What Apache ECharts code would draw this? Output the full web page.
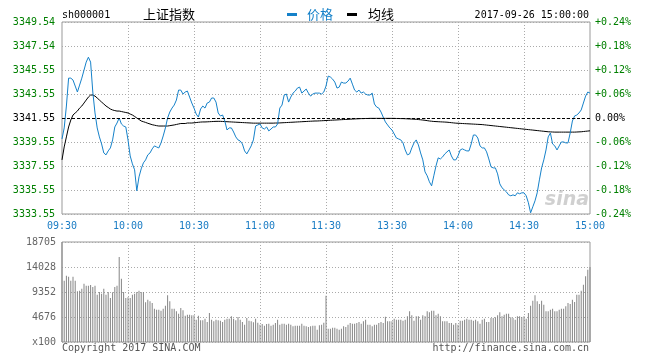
<!DOCTYPE html>
<html><head><meta charset="utf-8">
<script src="https://cdn.jsdelivr.net/npm/echarts@6/dist/echarts.min.js"></script>
<style>html,body{margin:0;padding:0;background:#fff}#c{width:649px;height:363px}</style>
</head><body><div id="c"></div>
<script>
const prevClose = 3341.55;
const priceTicks = ['3333.55','3335.55','3337.55','3339.55','3341.55','3343.55','3345.55','3347.54','3349.54'];
const pctTicks = ['-0.24%','-0.18%','-0.12%','-0.06%','0.00%','+0.06%','+0.12%','+0.18%','+0.24%'];
const volTicks = ['x100','4676','9352','14028','18705'];
const timeTicks = ['09:30','10:00','10:30','11:00','11:30','13:30','14:00','14:30','15:00'];

const price = [
3339.80,3340.72,3342.55,3344.88,3344.88,3344.72,3344.22,3343.72,3344.30,3344.88,
3345.55,3346.22,3346.63,3346.22,3343.72,3341.97,3340.72,3339.97,3339.38,3338.63,
3338.47,3338.80,3339.05,3339.72,3340.80,3341.13,3341.55,3341.05,3340.88,3340.80,
3339.72,3338.38,3337.72,3337.22,3335.47,3336.63,3337.30,3337.80,3338.05,3338.47,
3338.63,3338.97,3339.22,3339.13,3339.05,3339.47,3340.05,3340.72,3341.55,3342.05,
3342.38,3342.63,3343.05,3343.88,3343.88,3343.55,3343.72,3343.80,3343.30,3342.80,
3342.38,3341.88,3341.63,3342.30,3342.55,3342.38,3342.80,3342.88,3343.22,3343.22,
3342.88,3341.97,3341.72,3341.80,3341.30,3340.55,3340.72,3340.72,3340.38,3339.97,
3339.72,3339.63,3339.38,3338.80,3338.55,3338.88,3339.22,3339.72,3340.88,3340.97,
3341.05,3340.72,3340.63,3340.80,3340.47,3340.63,3340.80,3340.80,3341.05,3342.38,
3342.63,3343.47,3343.55,3342.88,3343.30,3343.63,3343.80,3344.05,3344.13,3343.63,
3343.80,3343.97,3343.63,3343.38,3343.55,3343.63,3343.63,3343.63,3343.55,3343.72,
3344.22,3345.05,3344.97,3344.80,3344.55,3344.05,3344.13,3344.55,3344.47,3344.47,
3344.63,3344.88,3344.38,3343.88,3343.72,3343.88,3343.63,3343.72,3343.55,3343.47,
3343.47,3343.63,3342.72,3342.47,3342.38,3342.05,3341.63,3341.22,3340.97,3340.72,
3340.55,3340.22,3339.88,3339.80,3339.72,3339.47,3338.88,3338.47,3338.55,3339.05,
3339.47,3339.72,3339.30,3338.63,3338.05,3337.05,3336.72,3336.22,3335.88,3336.72,
3337.55,3338.22,3338.13,3338.30,3338.55,3338.72,3338.88,3338.38,3338.05,3338.05,
3338.38,3338.88,3338.97,3338.88,3338.80,3338.80,3339.38,3340.13,3340.13,3339.88,
3339.22,3339.05,3339.05,3338.72,3338.13,3337.47,3337.38,3337.38,3336.88,3336.05,
3335.72,3335.55,3335.38,3335.13,3335.05,3335.13,3335.05,3335.30,3335.22,3335.30,
3335.30,3335.05,3334.47,3333.63,3334.13,3334.63,3335.30,3336.38,3337.38,3338.05,
3338.88,3339.97,3340.30,3339.38,3339.22,3338.88,3339.22,3339.55,3339.55,3339.47,
3339.47,3340.30,3341.30,3341.72,3341.80,3341.97,3342.22,3342.80,3343.38,3343.72,3343.63
];

const avgPrice = [
3338.05,3339.13,3339.97,3340.80,3341.38,3341.80,3341.97,3342.13,3342.38,3342.55,
3342.80,3343.05,3343.30,3343.47,3343.47,3343.38,3343.22,3343.05,3342.88,3342.72,
3342.55,3342.43,3342.30,3342.22,3342.17,3342.13,3342.13,3342.09,3342.05,3342.01,
3341.97,3341.88,3341.80,3341.68,3341.55,3341.43,3341.30,3341.24,3341.18,3341.11,
3341.05,3340.99,3340.95,3340.91,3340.88,3340.88,3340.88,3340.88,3340.88,3340.91,
3340.94,3340.97,3341.01,3341.05,3341.09,3341.09,3341.09,3341.13,3341.13,3341.13,
3341.15,3341.17,3341.19,3341.21,3341.22,3341.22,3341.23,3341.24,3341.25,3341.26,
3341.27,3341.27,3341.27,3341.26,3341.25,3341.24,3341.23,3341.22,3341.21,3341.20,
3341.19,3341.18,3341.17,3341.16,3341.15,3341.14,3341.13,3341.12,3341.12,3341.12,
3341.12,3341.12,3341.12,3341.12,3341.12,3341.12,3341.12,3341.13,3341.13,3341.14,
3341.15,3341.16,3341.17,3341.18,3341.19,3341.20,3341.21,3341.22,3341.23,3341.24,
3341.25,3341.26,3341.27,3341.28,3341.29,3341.30,3341.30,3341.31,3341.32,3341.33,
3341.34,3341.35,3341.36,3341.37,3341.38,3341.39,3341.40,3341.41,3341.42,3341.43,
3341.44,3341.45,3341.46,3341.47,3341.48,3341.49,3341.50,3341.50,3341.51,3341.51,
3341.52,3341.52,3341.52,3341.52,3341.52,3341.52,3341.52,3341.52,3341.52,3341.52,
3341.52,3341.52,3341.51,3341.51,3341.50,3341.50,3341.49,3341.48,3341.47,3341.46,
3341.45,3341.44,3341.42,3341.40,3341.38,3341.36,3341.33,3341.30,3341.28,3341.26,
3341.25,3341.24,3341.23,3341.22,3341.21,3341.20,3341.18,3341.16,3341.14,3341.12,
3341.11,3341.10,3341.09,3341.08,3341.07,3341.06,3341.05,3341.04,3341.03,3341.02,
3341.01,3341.00,3340.98,3340.96,3340.94,3340.92,3340.90,3340.88,3340.86,3340.84,
3340.82,3340.80,3340.78,3340.76,3340.74,3340.72,3340.70,3340.68,3340.66,3340.64,
3340.62,3340.60,3340.58,3340.56,3340.54,3340.52,3340.50,3340.48,3340.46,3340.44,
3340.42,3340.40,3340.39,3340.38,3340.37,3340.37,3340.37,3340.37,3340.37,3340.37,
3340.37,3340.37,3340.37,3340.37,3340.38,3340.39,3340.40,3340.42,3340.44,3340.46,3340.48
];

const volume = [
18705,11470,12400,12214,11466,12214,11466,9471,9596,9970,
10905,10531,10531,10656,10282,10531,8848,9347,9035,9970,
8848,9347,8224,9284,10282,10531,15894,11840,9347,8224,
8349,8224,8848,9035,9347,9596,9347,9347,7413,7912,
7600,7288,6229,6042,6042,5855,6229,6790,8723,7600,
6229,6229,5730,5294,6353,5917,4920,5107,5107,4982,
4982,4172,4920,4047,4047,4359,3735,5418,4172,3860,
4172,4047,3984,3735,4172,4359,4359,4795,4359,4047,
4670,4172,3735,3236,4483,3984,3860,3673,4359,3610,
3236,3361,3049,3361,3423,3049,3236,3548,4172,3236,
3423,3423,3236,3423,3236,2924,3049,3049,3049,3423,
3049,2924,2800,2924,3049,3049,2301,3112,3236,3610,
8661,2488,2488,2675,2675,2488,2301,2488,2924,2800,
3236,3548,3423,3423,3548,3735,3423,3860,4172,3236,
3236,2924,3236,3236,3548,3735,3548,4732,3860,3860,
3860,4359,4172,4172,4172,3984,4172,4795,5730,4982,
3984,4795,4795,4172,4982,4795,5730,5543,5855,5855,
4982,5294,4795,3860,3860,3860,3548,3548,3236,3548,
3236,3984,3984,4172,4359,4172,4172,3984,4172,3860,
3423,4172,4359,3735,3735,4483,4483,4608,4982,5543,
4795,5107,5294,5294,4608,4483,4172,4795,4795,4670,
4795,4359,5418,6790,7725,8723,7600,7101,7725,6977,
5730,5730,6042,6229,5730,5730,6042,6229,6229,6665,
7288,7101,7912,7476,8848,8848,9596,10718,12277,13524,14028
];

function pad(n){return (n<10?'0':'')+n;}
const times = [];
for (let i = 0; i <= 240; i++) {
  let m = i <= 120 ? 9*60+30+i : 13*60+(i-120);
  times.push(pad(Math.floor(m/60)) + ':' + pad(m%60));
}

const MONO = 'DejaVu Sans Mono';
const pct = v => +((v - prevClose) / prevClose * 100).toFixed(5);
const tickIdx = v => Math.round((v + 0.24) / 0.06);
const sideColor = v => { const k = tickIdx(v); return k > 4 ? '#ff0000' : (k === 4 ? '#000000' : '#008000'); };
const dotted = { show: true, lineStyle: { color: '#aaaaaa', type: [1, 2], width: 1 } };
const vInterval = i => i % 30 === 0 && i > 0 && i < 240;

const chart = echarts.init(document.getElementById('c'), null, { renderer: 'canvas' });
chart.setOption({
  animation: false,
  backgroundColor: '#ffffff',
  grid: [
    { left: 62, top: 22, width: 528, height: 192, show: true, borderColor: '#999999', borderWidth: 1, backgroundColor: 'transparent' },
    { left: 62, top: 242, width: 528, height: 100, show: true, borderColor: '#999999', borderWidth: 1, backgroundColor: 'transparent' }
  ],
  xAxis: [
    { type: 'category', gridIndex: 0, data: times, boundaryGap: false,
      axisLine: { show: false }, axisTick: { show: false },
      axisLabel: { interval: i => i % 30 === 0, formatter: (v, i) => timeTicks[Math.round(i / 30)],
        color: '#1a7cc4', fontFamily: MONO, fontSize: 10, margin: 7, showMinLabel: true, showMaxLabel: true },
      splitLine: Object.assign({ interval: vInterval }, dotted) },
    { type: 'category', gridIndex: 1, data: times, boundaryGap: false,
      axisLine: { show: false }, axisTick: { show: false }, axisLabel: { show: false },
      splitLine: Object.assign({ interval: vInterval }, dotted) }
  ],
  yAxis: [
    { type: 'value', gridIndex: 0, position: 'left', min: -0.24, max: 0.24, interval: 0.06,
      axisLine: { show: false }, axisTick: { show: false },
      axisLabel: { formatter: v => priceTicks[tickIdx(v)], color: sideColor, fontFamily: MONO, fontSize: 10, margin: 7 },
      splitLine: dotted },
    { type: 'value', gridIndex: 0, position: 'right', min: -0.24, max: 0.24, interval: 0.06,
      axisLine: { show: false }, axisTick: { show: false },
      axisLabel: { formatter: v => pctTicks[tickIdx(v)], color: sideColor, fontFamily: MONO, fontSize: 10, margin: 5 },
      splitLine: { show: false } },
    { type: 'value', gridIndex: 1, position: 'left', min: 0, max: 18705, interval: 4676.25,
      axisLine: { show: false }, axisTick: { show: false },
      axisLabel: { formatter: (v, i) => volTicks[Math.round(v / 4676.25)], color: '#666666', fontFamily: MONO, fontSize: 10, margin: 6 },
      splitLine: dotted }
  ],
  series: [
    { type: 'bar', xAxisIndex: 1, yAxisIndex: 2, data: volume, barWidth: 1,
      itemStyle: { color: '#858585' }, silent: true },
    { type: 'line', xAxisIndex: 0, yAxisIndex: 0, data: avgPrice.map(pct), showSymbol: false, symbol: 'none',
      lineStyle: { color: '#000000', width: 1 }, z: 3, silent: true },
    { type: 'line', xAxisIndex: 0, yAxisIndex: 0, data: price.map(pct), showSymbol: false, symbol: 'none',
      lineStyle: { color: '#1581c9', width: 1 }, z: 4, silent: true,
      markLine: { silent: true, symbol: 'none', label: { show: false },
        lineStyle: { color: '#000000', type: [3, 2], width: 1 }, data: [{ yAxis: 0 }] } }
  ],
  graphic: [
    { type: 'text', x: 62, y: 15, style: { text: 'sh000001', font: '10px ' + MONO, fill: '#000', align: 'left', verticalAlign: 'middle' } },
    { type: 'text', x: 143, y: 14, style: { text: '上证指数', font: '13px "Noto Sans CJK SC"', fill: '#000', align: 'left', verticalAlign: 'middle' } },
    { type: 'rect', shape: { x: 287, y: 13, width: 10, height: 3 }, style: { fill: '#1581c9' } },
    { type: 'text', x: 307, y: 14, style: { text: '价格', font: '13px "Noto Sans CJK SC"', fill: '#1581c9', align: 'left', verticalAlign: 'middle' } },
    { type: 'rect', shape: { x: 347, y: 13, width: 10, height: 3 }, style: { fill: '#000' } },
    { type: 'text', x: 368, y: 14, style: { text: '均线', font: '13px "Noto Sans CJK SC"', fill: '#000', align: 'left', verticalAlign: 'middle' } },
    { type: 'text', x: 589, y: 15, style: { text: '2017-09-26 15:00:00', font: '10px ' + MONO, fill: '#000', align: 'right', verticalAlign: 'middle' } },
    { type: 'text', x: 62, y: 348, style: { text: 'Copyright 2017 SINA.COM', font: '10px ' + MONO, fill: '#555', align: 'left', verticalAlign: 'middle' } },
    { type: 'text', x: 589, y: 348, style: { text: 'http://finance.sina.com.cn', font: '10px ' + MONO, fill: '#555', align: 'right', verticalAlign: 'middle' } },
    { type: 'text', x: 589, y: 200, style: { text: 'sina', font: 'italic bold 19px "DejaVu Sans"', fill: 'rgba(150,150,150,0.45)', align: 'right', verticalAlign: 'middle' } }
  ]
});
</script></body></html>
